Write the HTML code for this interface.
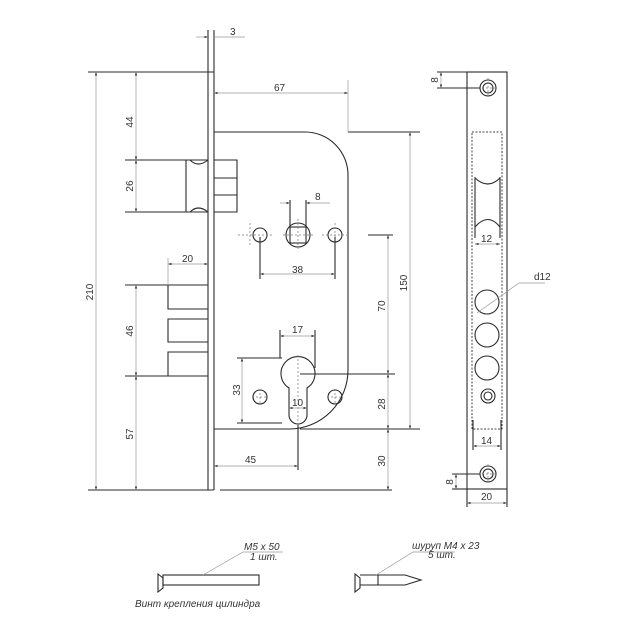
<!DOCTYPE html>
<html><head><meta charset="utf-8"><style>
html,body{margin:0;padding:0;background:#fff;}
svg{display:block;}
text{font-family:"Liberation Sans",Arial,sans-serif;font-size:10px;fill:#333;}
.k{stroke:#2a2a2a;stroke-width:1.1;fill:none;}
.d{stroke:#999;stroke-width:0.7;fill:none;}
.c{stroke:#777;stroke-width:0.7;fill:none;stroke-dasharray:2 2;}
.t{stroke:#444;stroke-width:1;fill:none;stroke-dasharray:2 1.5;}
</style></head><body>
<svg width="630" height="630" viewBox="0 0 630 630" xmlns="http://www.w3.org/2000/svg">
<defs><marker id="a" viewBox="0 0 6 6" refX="6" refY="3" markerWidth="5" markerHeight="5" orient="auto-start-reverse"><path d="M0,1 L6,3 L0,5z" fill="#333"/></marker></defs>

<!-- faceplate front -->
<line class="k" x1="208" y1="30" x2="208" y2="490"/>
<line class="k" x1="214" y1="30" x2="214" y2="490"/>
<line class="k" x1="88" y1="72" x2="214" y2="72"/>
<line class="k" x1="88" y1="490" x2="214" y2="490"/>
<line class="k" x1="220" y1="490" x2="392" y2="490"/>
<!-- 3 dim -->
<line class="d" x1="196" y1="37" x2="208" y2="37" marker-end="url(#a)"/>
<line class="d" x1="214" y1="37" x2="245" y2="37"/>
<text x="230" y="35">3</text>

<!-- case -->
<path class="k" d="M214,132 H305 A43,43 0 0 1 348,175 V370 A59,59 0 0 1 289,429 H214"/>
<line class="k" x1="348" y1="132" x2="380" y2="132"/>
<line class="k" x1="300" y1="429" x2="392" y2="429"/>
<line class="d" x1="348" y1="80" x2="348" y2="132"/>
<line class="d" x1="214" y1="93" x2="348" y2="93" marker-start="url(#a)" marker-end="url(#a)"/>
<text x="274" y="91">67</text>

<!-- latch -->
<path class="k" d="M186,160 H208 M186,212 H208 M186,160 V212"/>
<path class="k" d="M190,160 Q198,168 208,160 M190,212 Q198,204 208,212"/>
<path class="k" d="M214,160 H237 V212 H214 M214,178 H237 M214,195 H237"/>
<line class="k" x1="125" y1="160" x2="186" y2="160"/>
<line class="k" x1="125" y1="212" x2="186" y2="212"/>
<line class="d" x1="136" y1="72" x2="136" y2="160" marker-start="url(#a)" marker-end="url(#a)"/>
<line class="d" x1="136" y1="160" x2="136" y2="212" marker-start="url(#a)" marker-end="url(#a)"/>
<text transform="translate(133,122) rotate(-90)" text-anchor="middle">44</text>
<text transform="translate(133,186) rotate(-90)" text-anchor="middle">26</text>
<line class="d" x1="96" y1="72" x2="96" y2="490" marker-start="url(#a)" marker-end="url(#a)"/>
<text transform="translate(93,292) rotate(-90)" text-anchor="middle">210</text>

<!-- deadbolt -->
<path class="k" d="M208,285 H168 V309 H208 M208,319 H168 V342 H208 M208,352 H168 V376 H208"/>
<line class="k" x1="125" y1="285" x2="168" y2="285"/>
<line class="k" x1="125" y1="376" x2="168" y2="376"/>
<line class="d" x1="168" y1="258" x2="168" y2="285"/>
<line class="d" x1="168" y1="264" x2="208" y2="264" marker-start="url(#a)" marker-end="url(#a)"/>
<text x="182" y="262">20</text>
<line class="d" x1="136" y1="285" x2="136" y2="376" marker-start="url(#a)" marker-end="url(#a)"/>
<line class="d" x1="136" y1="376" x2="136" y2="490" marker-start="url(#a)" marker-end="url(#a)"/>
<text transform="translate(133,331) rotate(-90)" text-anchor="middle">46</text>
<text transform="translate(133,434) rotate(-90)" text-anchor="middle">57</text>

<!-- spindle -->
<circle class="k" cx="260" cy="235" r="7"/>
<circle class="k" cx="298" cy="235" r="12"/>
<rect class="k" x="290" y="227" width="16" height="16"/>
<circle class="k" cx="335" cy="235" r="7"/>
<path class="c" d="M238,235 H272 M250,223 V247 M283,235 H314 M298,219 V251 M322,235 H348 M335,223 V247"/>
<line class="k" x1="290" y1="200" x2="290" y2="227"/>
<line class="k" x1="306" y1="200" x2="306" y2="227"/>
<line class="d" x1="280" y1="203" x2="290" y2="203" marker-end="url(#a)"/>
<line class="d" x1="306" y1="203" x2="330" y2="203" marker-start="url(#a)"/>
<text x="315" y="200">8</text>
<line class="k" x1="260" y1="237" x2="260" y2="279"/>
<line class="k" x1="335" y1="237" x2="335" y2="279"/>
<line class="d" x1="260" y1="274" x2="335" y2="274" marker-start="url(#a)" marker-end="url(#a)"/>
<text x="292" y="273">38</text>

<!-- cylinder -->
<path class="k" d="M289,388 A17,17 0 1 1 307,388 V415 A9,9 0 0 1 289,415 Z"/>
<line class="c" x1="298" y1="355" x2="298" y2="430"/>
<line class="k" x1="298" y1="425" x2="298" y2="470"/>
<line class="k" x1="300" y1="374" x2="395" y2="374"/>
<circle class="k" cx="260" cy="397" r="7"/>
<circle class="k" cx="335" cy="397" r="7"/>
<path class="c" d="M252,397 H268 M260,389 V405 M327,397 H343 M335,389 V405"/>
<line class="k" x1="280" y1="330" x2="280" y2="358"/>
<line class="k" x1="315" y1="330" x2="315" y2="368"/>
<line class="d" x1="280" y1="336" x2="315" y2="336" marker-start="url(#a)" marker-end="url(#a)"/>
<text x="292" y="333">17</text>
<line class="d" x1="289" y1="408" x2="307" y2="408" marker-start="url(#a)" marker-end="url(#a)"/>
<text x="292" y="406">10</text>
<line class="k" x1="237" y1="358" x2="282" y2="358"/>
<line class="k" x1="237" y1="423" x2="282" y2="423"/>
<line class="d" x1="242" y1="358" x2="242" y2="423" marker-start="url(#a)" marker-end="url(#a)"/>
<text transform="translate(240,390) rotate(-90)" text-anchor="middle">33</text>
<line class="d" x1="214" y1="466" x2="298" y2="466" marker-start="url(#a)" marker-end="url(#a)"/>
<text x="245" y="463">45</text>

<!-- right dims -->
<line class="k" x1="368" y1="235" x2="393" y2="235"/>
<line class="d" x1="388" y1="235" x2="388" y2="374" marker-start="url(#a)" marker-end="url(#a)"/>
<line class="d" x1="388" y1="374" x2="388" y2="429" marker-start="url(#a)" marker-end="url(#a)"/>
<line class="d" x1="388" y1="429" x2="388" y2="490" marker-start="url(#a)" marker-end="url(#a)"/>
<line class="k" x1="380" y1="132" x2="420" y2="132"/>
<line class="k" x1="392" y1="429" x2="420" y2="429"/>
<line class="d" x1="410" y1="132" x2="410" y2="429" marker-start="url(#a)" marker-end="url(#a)"/>
<text transform="translate(385,306) rotate(-90)" text-anchor="middle">70</text>
<text transform="translate(385,404) rotate(-90)" text-anchor="middle">28</text>
<text transform="translate(385,461) rotate(-90)" text-anchor="middle">30</text>
<text transform="translate(407,283) rotate(-90)" text-anchor="middle">150</text>

<!-- side faceplate -->
<rect class="k" x="467" y="72" width="40" height="417"/>
<circle class="k" cx="488" cy="88" r="8"/><circle class="k" cx="488" cy="88" r="5"/>
<path class="c" d="M478,88 H498 M488,78 V98"/>
<circle class="k" cx="488" cy="474" r="8"/><circle class="k" cx="488" cy="474" r="5"/>
<path class="c" d="M478,474 H498 M488,464 V484"/>
<circle class="k" cx="488" cy="396" r="7"/><circle class="k" cx="488" cy="396" r="4"/>
<rect class="t" x="472" y="132" width="30" height="297"/>
<path class="k" d="M475,177 V238 M500,177 V238 M475,178 Q488,190 500,178 M475,227 Q488,212 500,227"/>
<line class="d" x1="475" y1="244" x2="500" y2="244" marker-start="url(#a)" marker-end="url(#a)"/>
<text x="481" y="242">12</text>
<circle class="k" cx="487" cy="302" r="12"/>
<circle class="k" cx="487" cy="335" r="12"/>
<circle class="k" cx="487" cy="368" r="12"/>
<path class="d" d="M477,313 L519,283 H545"/>
<text x="534" y="280">d12</text>
<path class="k" d="M473,420 V450 M501,420 V450"/>
<line class="d" x1="473" y1="446" x2="501" y2="446" marker-start="url(#a)" marker-end="url(#a)"/>
<text x="481" y="444">14</text>
<line class="k" x1="437" y1="72" x2="467" y2="72"/>
<line class="k" x1="437" y1="88" x2="480" y2="88"/>
<line class="d" x1="441" y1="72" x2="441" y2="88" marker-start="url(#a)" marker-end="url(#a)"/>
<text transform="translate(438,80) rotate(-90)" text-anchor="middle">8</text>
<line class="k" x1="452" y1="474" x2="480" y2="474"/>
<line class="k" x1="452" y1="489" x2="467" y2="489"/>
<line class="d" x1="456" y1="474" x2="456" y2="489" marker-start="url(#a)" marker-end="url(#a)"/>
<text transform="translate(453,482) rotate(-90)" text-anchor="middle">8</text>
<line class="k" x1="467" y1="489" x2="467" y2="507"/>
<line class="k" x1="507" y1="489" x2="507" y2="507"/>
<line class="d" x1="467" y1="503" x2="507" y2="503" marker-start="url(#a)" marker-end="url(#a)"/>
<text x="481" y="500">20</text>

<!-- screws -->
<path class="k" d="M158,574 L163,578 V588 L158,592 Z"/>
<rect class="k" x="163" y="575" width="96" height="10"/>
<path class="d" stroke="#333" d="M203,575 L243,552 H283"/>
<text x="244" y="550" font-size="7" font-style="italic">M5 x 50</text>
<text x="250" y="560" font-size="7" font-style="italic">1 шт.</text>
<text x="135" y="607" font-style="italic" font-size="9.5">Винт крепления цилиндра</text>
<path class="k" d="M355,574 L360,578 V588 L355,592 Z"/>
<path class="k" d="M360,575 H378 V585 H360 M378,575 H405 L421,580 L405,585 H378"/>
<path class="d" stroke="#333" d="M376,575 L413,552 H455"/>
<text x="412" y="549" font-size="7" font-style="italic">шуруп M4 x 23</text>
<text x="428" y="558" font-size="7" font-style="italic">5 шт.</text>
</svg>
</body></html>
